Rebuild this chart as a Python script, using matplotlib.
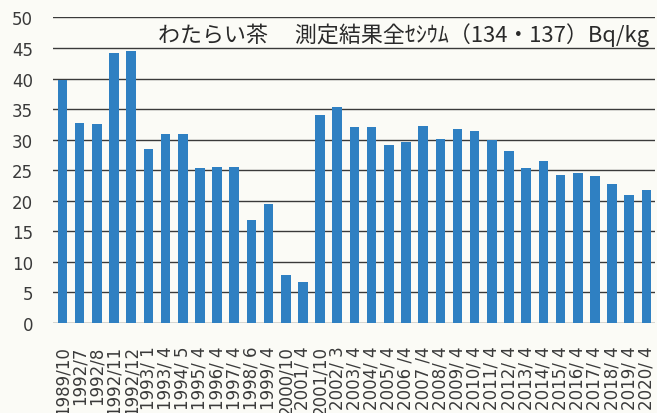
import matplotlib
matplotlib.use("Agg")
import matplotlib.pyplot as plt
import numpy as np

# Sampling dates and total caesium (Cs-134 + Cs-137) in Watarai tea, Bq/kg
dates = [
    "1989/10", "1992/7", "1992/8", "1992/11", "1992/12", "1993/ 1", "1993/ 4",
    "1994/ 5", "1995/ 4", "1996/ 4", "1997/ 4", "1998/ 6", "1999/ 4", "2000/10",
    "2001/ 4", "2001/10", "2002/ 3", "2003/ 4", "2004/ 4", "2005/ 4", "2006 /4",
    "2007 /4", "2008/ 4", "2009/ 4", "2010/ 4", "2011/ 4", "2012/ 4", "2013/ 4",
    "2014/ 4", "2015/ 4", "2016/ 4", "2017/ 4", "2018/ 4", "2019/ 4", "2020/ 4",
]
cesium = [
    39.7, 32.7, 32.6, 44.2, 44.5, 28.4, 30.9,
    30.9, 25.3, 25.6, 25.6, 16.8, 19.5, 7.8,
    6.7, 34.1, 35.3, 32.0, 32.0, 29.2, 29.7,
    32.3, 30.1, 31.7, 31.4, 30.0, 28.1, 25.4,
    26.5, 24.2, 24.6, 24.1, 22.7, 21.0, 21.8,
]
yticks = [0, 5, 10, 15, 20, 25, 30, 35, 40, 45, 50]
title = "わたらい茶　 測定結果全ｾｼｳﾑ（134・137）Bq/kg"

bg = "#fbfbf6"
bar_color = "#2f80c2"

fig = plt.figure(figsize=(6.57, 4.14), dpi=100, facecolor=bg)
ax = fig.add_axes([0.0807, 0.2174, 0.9163, 0.7380], facecolor=bg)

x = np.arange(len(dates))
ax.bar(x, cesium, width=0.56, color=bar_color, zorder=3)

ax.set_ylim(0, 50)
ax.set_xlim(-0.55, len(dates) - 1 + 0.5)
ax.set_yticks(yticks)
ax.yaxis.grid(True, color="#3a3a3a", linewidth=1.0, zorder=1)
ax.set_axisbelow(True)
for s in ax.spines.values():
    s.set_visible(False)

ax.tick_params(axis="both", length=0)
ax.tick_params(axis="y", pad=14.5, labelsize=12, labelcolor="#3a3a3a")
ax.tick_params(axis="x", pad=16.0, labelsize=12, labelcolor="#3a3a3a")
ax.set_xticks(x)
ax.set_xticklabels(dates, rotation=90, va="top", ha="center",
                   family="DejaVu Sans")
for lbl in ax.get_yticklabels():
    lbl.set_family("DejaVu Sans")

ax.text(0.99, 45.35, title, ha="right", va="bottom", fontsize=15.8,
        color="#2a2a2a", family=["Noto Sans CJK JP", "DejaVu Sans"],
        transform=ax.get_yaxis_transform(), zorder=5)

fig.savefig("out.png", dpi=100, facecolor=bg)
